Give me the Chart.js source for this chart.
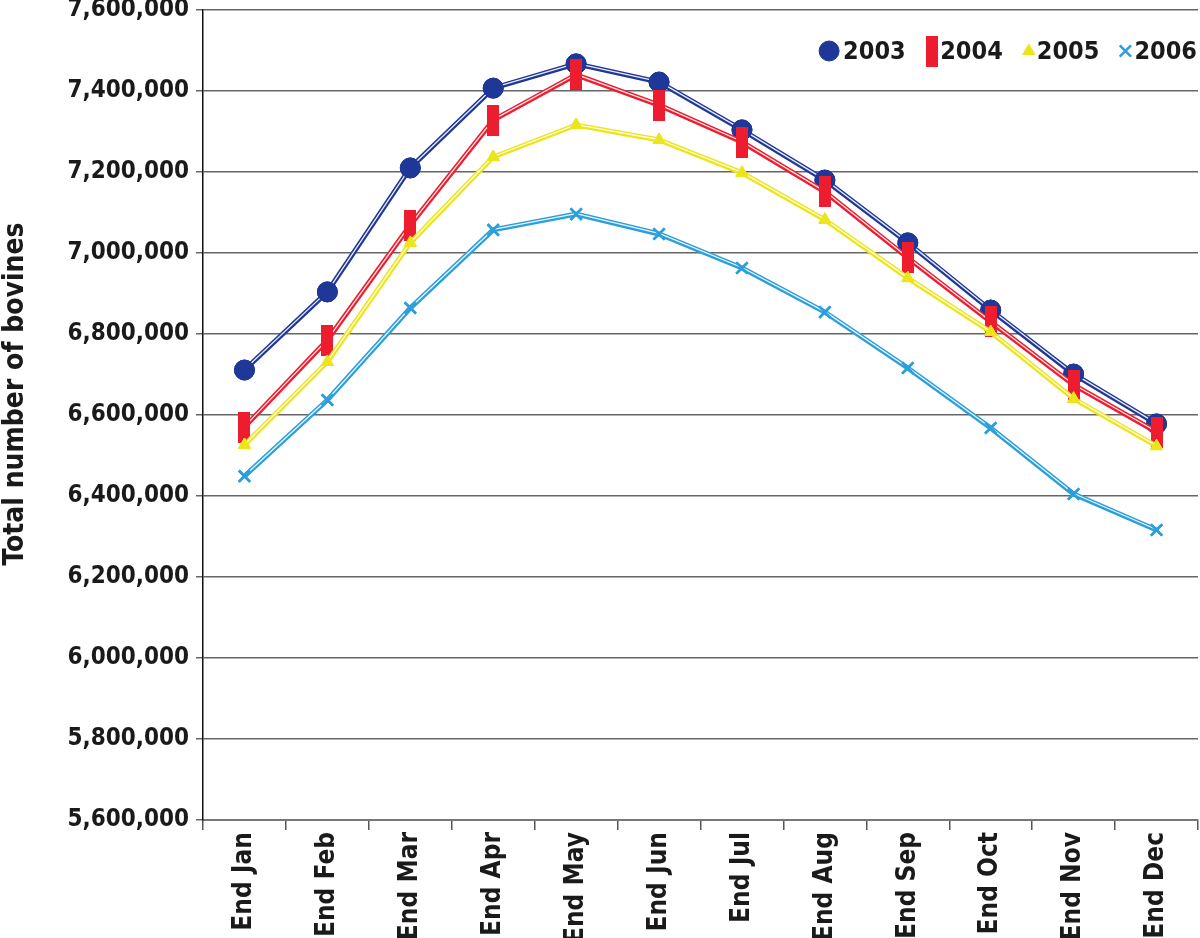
<!DOCTYPE html>
<html>
<head>
<meta charset="utf-8">
<script src="https://cdn.jsdelivr.net/npm/chart.js@4/dist/chart.umd.min.js"></script>
<style>
  html, body { margin: 0; padding: 0; background: #fff; }
  #wrap { width: 1200px; height: 938px; }
</style>
</head>
<body>
<div id="wrap"><canvas id="chart" width="1200" height="938"></canvas></div>
<script>
const months = ['End Jan', 'End Feb', 'End Mar', 'End Apr', 'End May', 'End Jun',
  'End Jul', 'End Aug', 'End Sep', 'End Oct', 'End Nov', 'End Dec'];

const y2003 = [6711000, 6904000, 7210000, 7407000, 7467000, 7422000, 7304000, 7180000, 7025000, 6859000, 6701000, 6578000];
const y2004 = [6570000, 6785000, 7069000, 7328000, 7440000, 7365000, 7274000, 7151000, 6988000, 6830000, 6674000, 6558000];
const y2005 = [6526000, 6731000, 7025000, 7237000, 7316000, 7279000, 7198000, 7082000, 6938000, 6805000, 6640000, 6523000];
const y2006 = [6449000, 6637000, 6864000, 7057000, 7096000, 7047000, 6963000, 6854000, 6716000, 6568000, 6405000, 6316000];

const yMin = 5600000;
const yMax = 7600000;
const yStep = 200000;

const FONT = "'DejaVu Sans Condensed', 'Liberation Sans Narrow', sans-serif";

// tall red bar used as the 2004 marker
const barMark = document.createElement('canvas');
barMark.width = 12;
barMark.height = 31;
const bctx = barMark.getContext('2d');
bctx.fillStyle = '#ed1c2e';
bctx.fillRect(0, 0, 12, 31);

// white centre stroke -> the "double line" look, then markers again on top
const doubleLine = {
  id: 'doubleLine',
  afterDatasetDraw(chart, args) {
    const pts = args.meta.data;
    if (!pts.length) return;
    const ctx = chart.ctx;
    const area = chart.chartArea;
    ctx.save();
    ctx.beginPath();
    pts.forEach((p, i) => i ? ctx.lineTo(p.x, p.y - 0.5) : ctx.moveTo(p.x, p.y - 0.5));
    ctx.strokeStyle = 'rgba(255,255,255,0.9)';
    ctx.lineWidth = 1.3;
    ctx.lineJoin = 'round';
    ctx.stroke();
    ctx.restore();
    pts.forEach(p => p.draw(ctx, area));
  }
};

// legend drawn inside the plot, top right, in one row
const cornerLegend = {
  id: 'cornerLegend',
  afterDraw(chart) {
    const ctx = chart.ctx;
    const area = chart.chartArea;
    const sets = chart.data.datasets;
    const y = 51;
    let x = area.right - 1;
    ctx.save();
    ctx.font = 'bold 25px ' + FONT;
    ctx.textBaseline = 'middle';
    ctx.textAlign = 'left';
    for (let i = sets.length - 1; i >= 0; i--) {
      const ds = sets[i];
      const tw = ctx.measureText(ds.label).width;
      const tx = x - tw;
      ctx.fillStyle = '#1a1a1a';
      ctx.fillText(ds.label, tx, y + 1);
      const mx = tx - ds.legendOffset;
      ctx.fillStyle = ds.pointBackgroundColor;
      ctx.strokeStyle = ds.pointBorderColor;
      ctx.lineWidth = ds.pointBorderWidth;
      Chart.helpers.drawPoint(ctx, {
        pointStyle: ds.pointStyle, radius: ds.pointRadius, rotation: 0,
        borderWidth: ds.pointBorderWidth
      }, mx, y);
      x = mx - 26;
    }
    ctx.restore();
  }
};

// y title sits a little above the middle of the plot in the original
const yTitle = {
  id: 'yTitle',
  afterDraw(chart) {
    const ctx = chart.ctx;
    const area = chart.chartArea;
    ctx.save();
    ctx.translate(16, (area.top + area.bottom) / 2 - 21);
    ctx.rotate(-Math.PI / 2);
    ctx.font = 'bold 28px ' + FONT;
    ctx.fillStyle = '#1a1a1a';
    ctx.textAlign = 'center';
    ctx.textBaseline = 'middle';
    ctx.fillText('Total number of bovines', 0, 0);
    ctx.restore();
  }
};

function series(label, data, color, style, radius, order, legendOffset) {
  return {
    label, data, order, legendOffset,
    borderColor: color,
    backgroundColor: color,
    borderWidth: 5,
    tension: 0,
    pointStyle: style,
    pointRadius: radius,
    pointHoverRadius: radius,
    pointBackgroundColor: color,
    pointBorderColor: color,
    pointBorderWidth: style === 'crossRot' ? 2.5 : 1
  };
}

new Chart(document.getElementById('chart'), {
  type: 'line',
  data: {
    labels: months,
    datasets: [
      series('2003', y2003, '#1f3796', 'circle', 10, 3, 14),
      series('2004', y2004, '#ed1c2e', barMark, 10, 2, 8.5),
      series('2005', y2005, '#ede51c', 'triangle', 7, 1, 8),
      series('2006', y2006, '#2b9fdb', 'crossRot', 8, 0, 9)
    ]
  },
  options: {
    responsive: false,
    animation: false,
    layout: { autoPadding: false, padding: { top: 0, right: 2, left: 0, bottom: 0 } },
    plugins: {
      tooltip: { enabled: false },
      legend: { display: false }
    },
    scales: {
      x: {
        offset: true,
        grid: {
          offset: true,
          drawOnChartArea: false,
          drawTicks: true,
          tickLength: 10,
          color: '#555',
          lineWidth: 1.5
        },
        border: { color: '#777', width: 2 },
        ticks: {
          minRotation: 90,
          maxRotation: 90,
          padding: 2,
          color: '#1a1a1a',
          font: { family: FONT, size: 26, weight: 'bold' }
        },
        afterFit(scale) {
          scale.height = 118;
          scale.paddingRight = 0;
          scale.paddingLeft = 0;
        }
      },
      y: {
        min: yMin,
        max: yMax,
        grid: {
          color: '#666',
          lineWidth: 1.5,
          tickLength: 7
        },
        border: { color: '#111', width: 1.5 },
        ticks: {
          stepSize: yStep,
          padding: 7,
          color: '#1a1a1a',
          font: { family: FONT, size: 24, weight: 'bold' },
          callback: v => v.toLocaleString('en-US')
        },
        afterFit(scale) {
          scale.width = 203;
          scale.paddingTop = 10;
        }
      }
    }
  },
  plugins: [doubleLine, cornerLegend, yTitle]
});
</script>
</body>
</html>
